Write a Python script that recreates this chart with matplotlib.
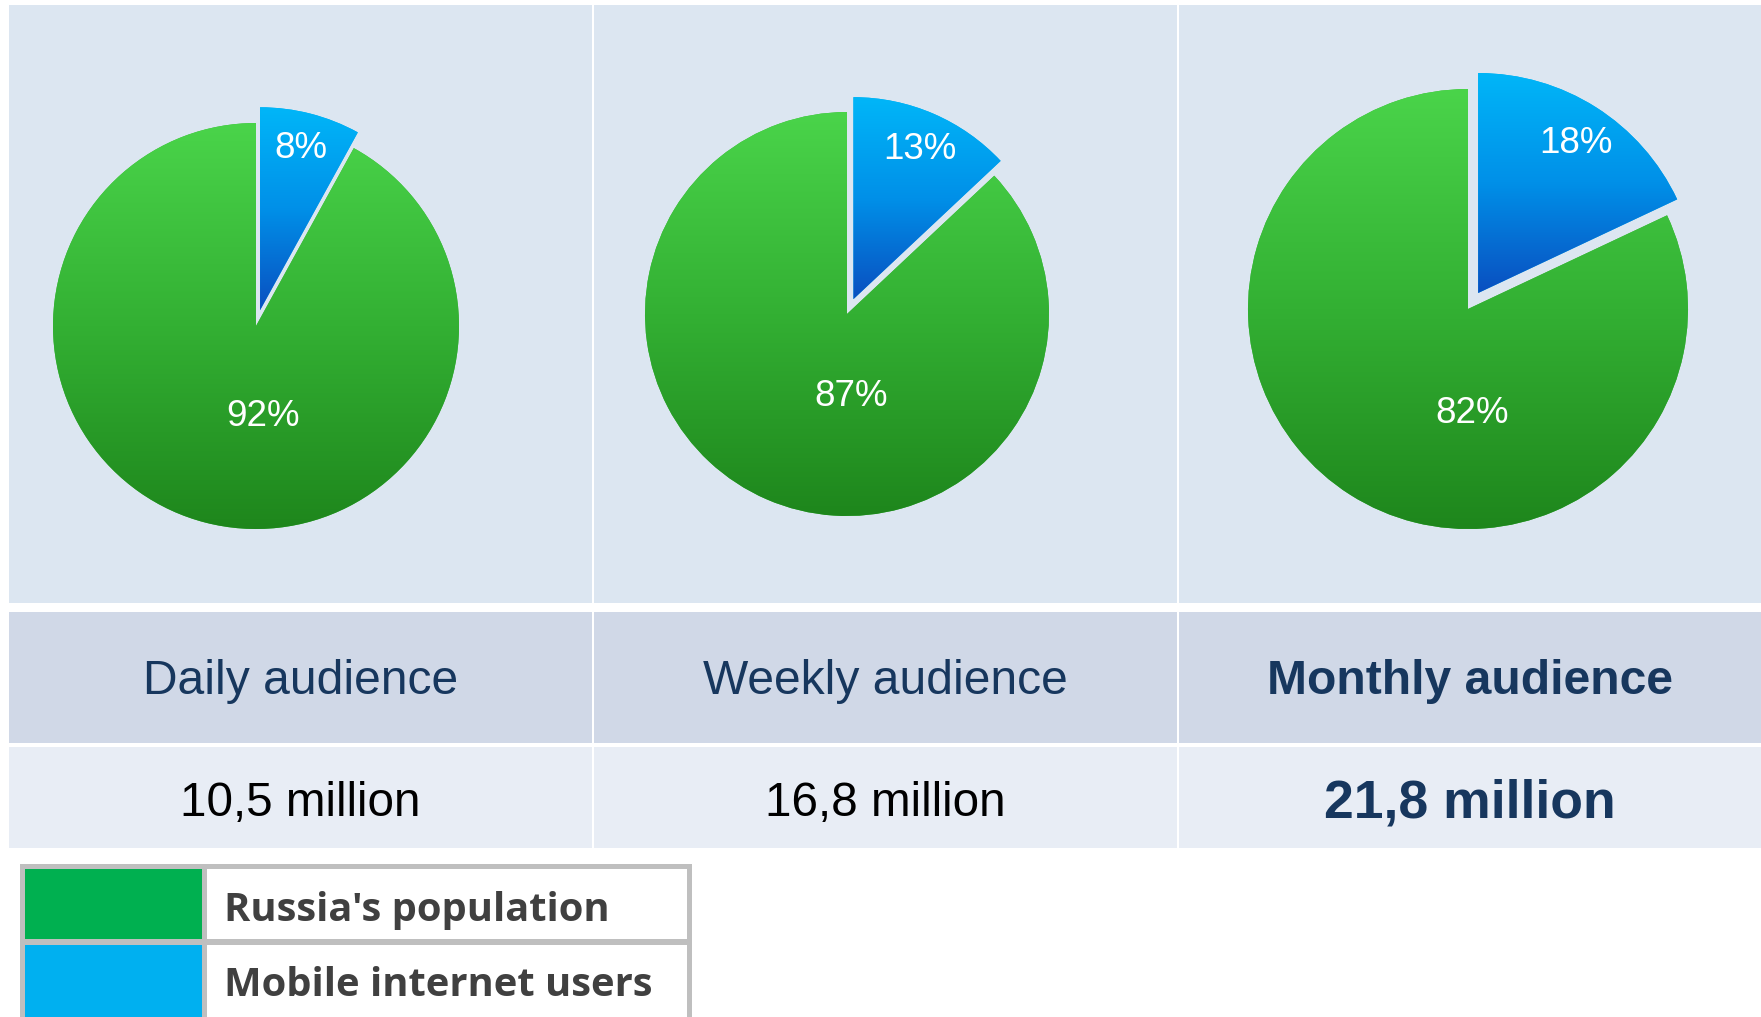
import numpy as np
import matplotlib
matplotlib.use('Agg')
from matplotlib import pyplot as plt
from matplotlib.patches import Rectangle
from matplotlib.colors import LinearSegmentedColormap

# data
periods = ['Daily audience', 'Weekly audience', 'Monthly audience']
audience = ['10,5 million', '16,8 million', '21,8 million']
mobileShare = [8, 13, 18]
populationShare = [92, 87, 82]
legendLabels = ["Russia's population", 'Mobile internet users']

W, H = 1761, 1017
fig = plt.figure(figsize=(W / 100, H / 100), dpi=100)
fig.patch.set_facecolor('white')

bg = fig.add_axes([0, 0, 1, 1])
bg.set_xlim(0, W)
bg.set_ylim(H, 0)
bg.axis('off')

colX = [9, 594, 1179, W]
for i in range(3):
	x0 = colX[i]
	x1 = colX[i + 1] - (2 if i < 2 else 0)
	bg.add_patch(Rectangle((x0, 5), x1 - x0, 598, color='#dce6f1', lw=0))
	bg.add_patch(Rectangle((x0, 612), x1 - x0, 131, color='#d0d8e7', lw=0))
	bg.add_patch(Rectangle((x0, 747), x1 - x0, 101, color='#e8edf5', lw=0))
	cx = (x0 + x1) / 2
	bold = (i == 2)
	bg.text(cx, 682, periods[i], ha='center', va='center', fontsize=34.6,
		family='Liberation Sans', color='#17375e', fontweight='bold' if bold else 'normal')
	bg.text(cx, 803, audience[i], ha='center', va='center', fontsize=38.5 if bold else 34.3,
		family='Liberation Sans', color='#17375e' if bold else 'black',
		fontweight='bold' if bold else 'normal')

# legend table
bg.add_patch(Rectangle((20, 864), 672, 160, facecolor='#bfbfbf', lw=0))
swatches = ['#00b050', '#00b0f0']
rowsY = [(869, 70), (945, 75)]
for (y0, h), c, lab in zip(rowsY, swatches, legendLabels):
	bg.add_patch(Rectangle((25, y0), 177, h, facecolor=c, lw=0))
	bg.add_patch(Rectangle((207, y0), 480, h, facecolor='white', lw=0))
	bg.text(224, y0 + 41, lab, ha='left', va='center', fontsize=28.7,
		family='Open Sans', fontweight='bold', color='#404040')

greenMap = LinearSegmentedColormap.from_list('g', ['#1e861c', '#33b033', '#4ad44a'])
blueMap = LinearSegmentedColormap.from_list('b', ['#0a4fc0', '#0090e8', '#00b6f8'])
grad = np.linspace(0, 1, 256).reshape(-1, 1)

centers = [(256, 326), (847, 314), (1468, 309)]
radii = [203, 202, 220]
explodes = [0.08, 0.08, 0.086]
# label offsets in radius units (blue, green)
labelPos = [[(0.22, 0.872), (0.035, -0.448)],
	[(0.36, 0.812), (0.02, -0.408)],
	[(0.49, 0.752), (0.02, -0.476)]]

S = 290
for i in range(3):
	cx, cy = centers[i]
	r = radii[i]
	ax = fig.add_axes([(cx - S) / W, (H - cy - S) / H, 2 * S / W, 2 * S / H])
	ax.set_facecolor('none')
	wedges, _ = ax.pie([mobileShare[i], populationShare[i]], startangle=90,
		counterclock=False, explode=[explodes[i], 0], radius=1,
		colors=['#00b0f0', '#3cb93c'], wedgeprops=dict(lw=0))
	for w, cm in zip(wedges, [blueMap, greenMap]):
		bb = w.get_path().get_extents()
		im = ax.imshow(grad, extent=[bb.x0, bb.x1, bb.y0, bb.y1], origin='lower',
			cmap=cm, aspect='auto', zorder=2, interpolation='bilinear')
		im.set_clip_path(w)
	vals = [mobileShare[i], populationShare[i]]
	for (lx, ly), v in zip(labelPos[i], vals):
		ax.text(lx, ly, '{0}%'.format(v), ha='center', va='center', fontsize=26.5,
			family='Liberation Sans', color='white', zorder=3)
	L = S / r
	ax.set_xlim(-L, L)
	ax.set_ylim(-L, L)
	ax.axis('off')

fig.savefig('out.png', dpi=100, facecolor='white')
